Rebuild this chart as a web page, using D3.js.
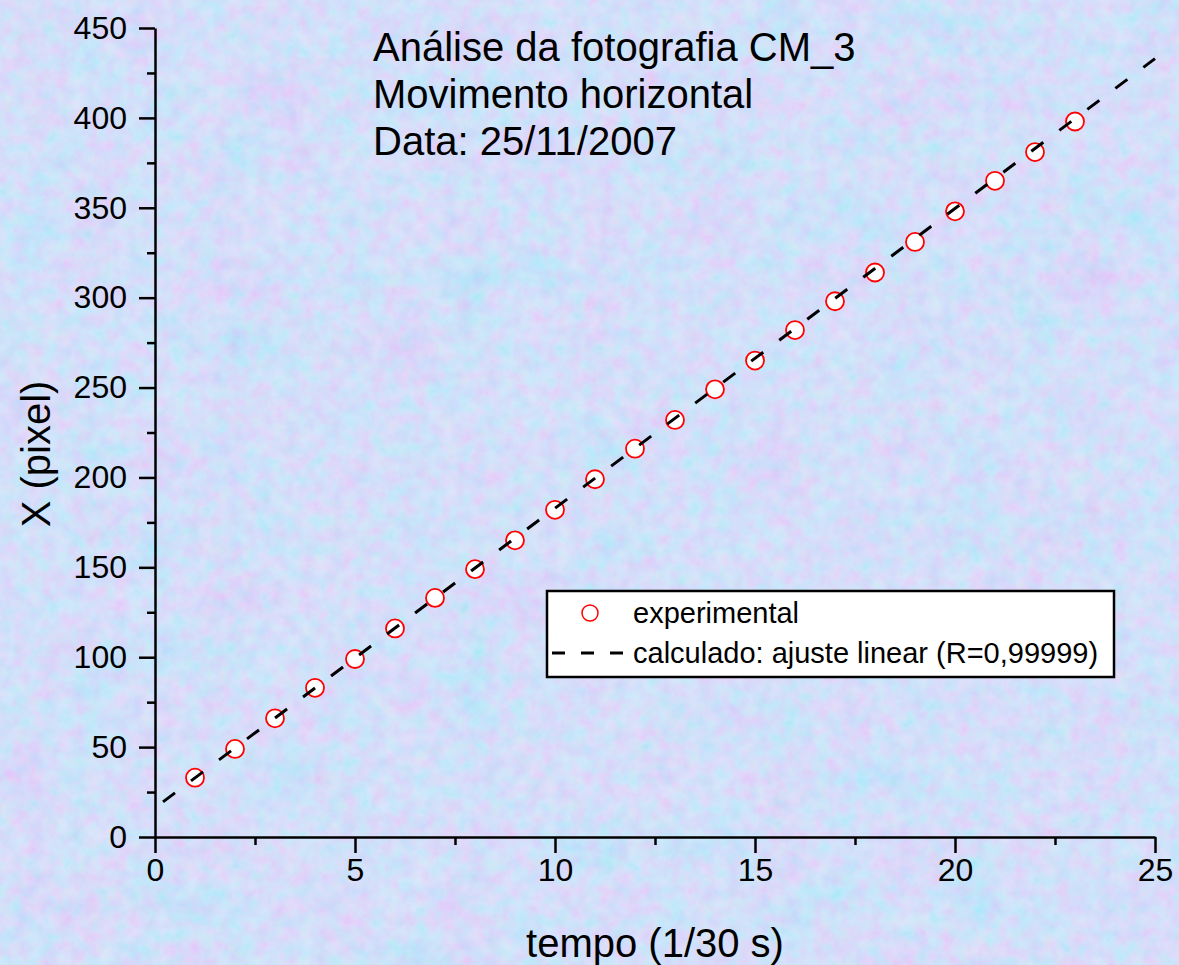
<!DOCTYPE html>
<html>
<head>
<meta charset="utf-8">
<script src="https://cdn.jsdelivr.net/npm/d3@7"></script>
<style>
  body{margin:0;background:#c4d0f5;}
  svg{display:block;font-family:Arial,"Liberation Sans",sans-serif;}
</style>
</head>
<body>
<svg id="chart"></svg>
<script>
// dados
const tempo = [1,2,3,4,5,6,7,8,9,10,11,12,13,14,15,16,17,18,19,20,21,22,23];
const posX  = [33,49,66,83,99,116,133,149,165,182,199,216,232,249,265,282,298,314,331,348,365,381,398];
const ajuste = {a:16.2, b:16.67, de:0.2, ate:25}; // X = a + b*t
const titulo = ["Análise da fotografia CM_3","Movimento horizontal","Data: 25/11/2007"];
const legenda = ["experimental","calculado: ajuste linear (R=0,99999)"];
const xTicks = [0,5,10,15,20,25], yTicks = [0,50,100,150,200,250,300,350,400,450];

let width = 1179, height = 965;
const svg = d3.select('#chart').attr('width',width).attr('height',height);

// fundo texturizado
const defs = svg.append('defs');
const f = defs.append('filter').attr('id','ruido').attr('x',0).attr('y',0).attr('width','100%').attr('height','100%');
f.append('feTurbulence').attr('type','fractalNoise').attr('baseFrequency','0.07').attr('numOctaves',4).attr('seed',7);
f.append('feColorMatrix').attr('type','matrix')
  .attr('values','1.0 -0.4 0 0 0.42  -0.3 0.8 0 0 0.58  0 0 0.3 0 0.84  0 0 0 0 0.35');
const f2 = defs.append('filter').attr('id','manchas').attr('x',0).attr('y',0).attr('width','100%').attr('height','100%');
f2.append('feTurbulence').attr('type','fractalNoise').attr('baseFrequency','0.016').attr('numOctaves',2).attr('seed',3);
f2.append('feColorMatrix').attr('type','matrix')
  .attr('values','1.3 -0.9 0 0 0.62  -0.6 1.0 0 0 0.7  0 0 0.2 0 0.88  0 0 0 0 0.28');
svg.append('rect').attr('width',width).attr('height',height).attr('fill','#c3cff5');
svg.append('rect').attr('width',width).attr('height',height).attr('filter','url(#manchas)');
svg.append('rect').attr('width',width).attr('height',height).attr('filter','url(#ruido)');

const m = {left:155, top:28, right:1155, bottom:837};
const x = d3.scaleLinear().domain([0,25]).range([m.left,m.right]);
const y = d3.scaleLinear().domain([0,450]).range([m.bottom,m.top]);

const g = svg.append('g');

// eixos: menores primeiro
const xMinor = d3.axisBottom(x).tickValues(d3.range(2.5,25,5)).tickSize(8).tickFormat('');
const yMinor = d3.axisLeft(y).tickValues(d3.range(25,450,50)).tickSize(8).tickFormat('');
const xAxis = d3.axisBottom(x).tickValues(xTicks).tickSize(16).tickSizeOuter(0).tickPadding(5);
const yAxis = d3.axisLeft(y).tickValues(yTicks).tickSize(16).tickSizeOuter(0).tickPadding(12);

[[xMinor,`translate(0,${m.bottom})`],[xAxis,`translate(0,${m.bottom})`],
 [yMinor,`translate(${m.left},0)`],[yAxis,`translate(${m.left},0)`]].forEach(([ax,tr])=>{
  const a = g.append('g').attr('transform',tr).call(ax);
  a.selectAll('path').attr('stroke','#000').attr('stroke-width',2.5);
  a.selectAll('line').attr('stroke','#000').attr('stroke-width',2.5);
  a.selectAll('text').attr('fill','#000').style('font-size','32px').style('font-family','Arial,"Liberation Sans",sans-serif');
});
g.selectAll('.domain').filter((d,i)=>i%2===0).remove(); // domain só uma vez

// títulos dos eixos
svg.append('text').attr('x',(m.left+m.right)/2).attr('y',957).attr('text-anchor','middle')
  .style('font-size','40px').text('tempo (1/30 s)');
svg.append('text').attr('transform','translate(50,454) rotate(-90)').attr('text-anchor','middle')
  .style('font-size','40px').text('X (pixel)');

// pontos experimentais
svg.append('g').selectAll('circle')
  .data(tempo.map((t,i)=>[t,posX[i]]))
  .join('circle')
    .attr('cx',d=>x(d[0]))
    .attr('cy',d=>y(d[1]))
    .attr('r',9)
    .attr('fill','#fff')
    .attr('stroke','#f00')
    .attr('stroke-width',1.8);

// reta ajustada
svg.append('line')
  .attr('x1',x(ajuste.de)).attr('y1',y(ajuste.a+ajuste.b*ajuste.de))
  .attr('x2',x(ajuste.ate)).attr('y2',y(ajuste.a+ajuste.b*ajuste.ate))
  .attr('stroke','#000').attr('stroke-width',3).attr('stroke-dasharray','15,20');

// título
svg.append('text').attr('x',373).attr('y',61).style('font-size','40px')
  .selectAll('tspan').data(titulo).join('tspan')
    .attr('x',373).attr('dy',(d,i)=>i? 47:0).text(d=>d);

// legenda
const leg = svg.append('g');
leg.append('rect').attr('x',547).attr('y',591).attr('width',567).attr('height',86)
  .attr('fill','#fff').attr('stroke','#000').attr('stroke-width',2.5);
leg.append('circle').attr('cx',590).attr('cy',613).attr('r',8)
  .attr('fill','none').attr('stroke','#f00').attr('stroke-width',1.5);
leg.append('line').attr('x1',552).attr('x2',624).attr('y1',653).attr('y2',653)
  .attr('stroke','#000').attr('stroke-width',3).attr('stroke-dasharray','13,16');
leg.selectAll('text.l').data(legenda).join('text').attr('class','l')
  .attr('x',633).attr('y',(d,i)=>623+i*40).style('font-size','29px').text(d=>d);
</script>
</body>
</html>
